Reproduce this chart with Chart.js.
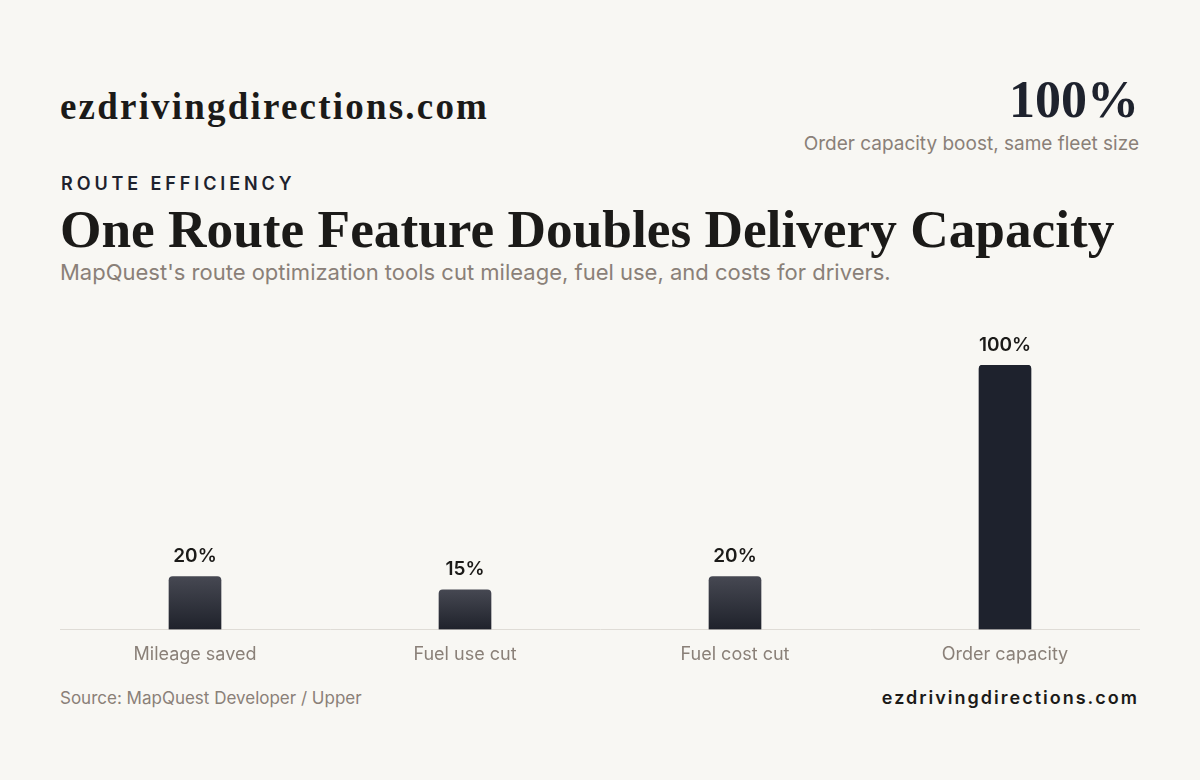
<!DOCTYPE html>
<html lang="en">
<head>
<meta charset="UTF-8">
<script src="https://cdn.jsdelivr.net/npm/chart.js"></script>
<title>One Route Feature Doubles Delivery Capacity</title>
<style>
  html, body { margin: 0; padding: 0; }
  body { width: 1200px; height: 780px; background: #f8f7f3; position: relative; overflow: hidden; font-family: Inter, "Noto Sans", sans-serif; }
  .brand { position: absolute; left: 60px; top: 88px; font-family: "Liberation Serif", "DejaVu Serif", serif; font-weight: 700; font-size: 37px; letter-spacing: 2.2px; color: #1b1a18; line-height: 1; }
  .stat { position: absolute; right: 61px; top: 74px; font-family: "Liberation Serif", "DejaVu Serif", serif; font-weight: 700; font-size: 52px; color: #1e222d; line-height: 1; }
  .statsub { position: absolute; right: 61px; top: 132px; font-size: 19px; color: #8a8078; }
  .kicker { position: absolute; left: 61px; top: 173px; font-size: 18px; font-weight: 600; letter-spacing: 3.9px; color: #1e222d; }
  .title { position: absolute; left: 60px; top: 203px; font-family: "Liberation Serif", "DejaVu Serif", serif; font-weight: 700; font-size: 53.3px; color: #1b1a18; line-height: 1; white-space: nowrap; }
  .sub { position: absolute; left: 60px; top: 259px; font-size: 22px; color: #8a8078; }
  .chart { position: absolute; left: 60px; top: 320px; width: 1080px; height: 359px; }
  .source { position: absolute; left: 60px; top: 688px; font-size: 17px; color: #8a8078; }
  .foot { position: absolute; right: 61px; top: 687px; font-size: 18px; font-weight: 600; letter-spacing: 2px; color: #1b1a18; }
</style>
</head>
<body>
  <div class="brand">ezdrivingdirections.com</div>
  <div class="stat">100%</div>
  <div class="statsub">Order capacity boost, same fleet size</div>
  <div class="kicker">ROUTE EFFICIENCY</div>
  <div class="title">One Route Feature Doubles Delivery Capacity</div>
  <div class="sub">MapQuest's route optimization tools cut mileage, fuel use, and costs for drivers.</div>
  <div class="chart"><canvas id="grafico"></canvas></div>
  <div class="source">Source: MapQuest Developer / Upper</div>
  <div class="foot">ezdrivingdirections.com</div>

<script>
const categorias = ['Mileage saved', 'Fuel use cut', 'Fuel cost cut', 'Order capacity'];
const valores = [20, 15, 20, 100];
const rotulos = ['20%', '15%', '20%', '100%'];
const destaque = [false, false, false, true];

// rótulos de valor acima das barras
const valueLabels = {
  id: 'valueLabels',
  afterDatasetsDraw(chart) {
    const ctx = chart.ctx;
    const meta = chart.getDatasetMeta(0);
    ctx.save();
    ctx.font = '600 19px Inter';
    ctx.fillStyle = '#1b1a18';
    ctx.textAlign = 'center';
    ctx.textBaseline = 'middle';
    meta.data.forEach((bar, i) => {
      ctx.fillText(rotulos[i], bar.x, bar.y - 20);
    });
    ctx.restore();
  }
};

function corBarra(context) {
  const chart = context.chart;
  const area = chart.chartArea;
  if (destaque[context.dataIndex]) return '#1e222d';
  if (!area || !chart.scales.y) return '#30323b';
  const top = chart.scales.y.getPixelForValue(valores[context.dataIndex]);
  if (!isFinite(top) || !isFinite(area.bottom)) return '#30323b';
  const g = chart.ctx.createLinearGradient(0, top, 0, area.bottom);
  g.addColorStop(0, '#464852');
  g.addColorStop(1, '#1f222b');
  return g;
}

const ctx = document.getElementById('grafico').getContext('2d');
new Chart(ctx, {
  type: 'bar',
  data: {
    labels: categorias,
    datasets: [{
      data: valores,
      backgroundColor: corBarra,
      borderRadius: { topLeft: 4, topRight: 4 },
      borderSkipped: 'bottom',
      barThickness: 52
    }]
  },
  options: {
    responsive: true,
    maintainAspectRatio: false,
    animation: false,
    layout: { padding: { top: 45, left: 0, right: 0, bottom: 0 } },
    scales: {
      y: {
        display: false,
        min: 0,
        max: 100
      },
      x: {
        grid: { display: false, drawTicks: false },
        border: { display: true, color: '#dfdcd6', width: 1 },
        ticks: { color: '#8a8078', font: { family: 'Inter', size: 18 }, padding: 14 }
      }
    },
    plugins: {
      legend: { display: false },
      tooltip: { enabled: false }
    }
  },
  plugins: [valueLabels]
});
</script>
</body>
</html>
